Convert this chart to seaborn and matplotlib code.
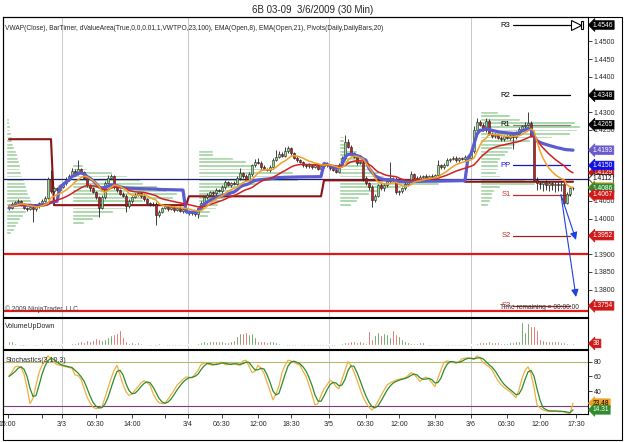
import numpy as np
import pandas as pd
import seaborn as sns
import matplotlib.pyplot as plt
from matplotlib.patches import Rectangle
from matplotlib.ticker import FormatStrFormatter

sns.set_theme(style="white")
plt.rcParams['font.family'] = ['Liberation Sans', 'DejaVu Sans']

# 6B 03-09, 30 min bars, 3/2 15:00 .. 3/6 17:30
first_open = 1.4036
close = [
    1.4030, 1.4042, 1.4048, 1.4050, 1.4040, 1.4030, 1.4028, 1.4032, 1.4026, 1.4035,
    1.4045, 1.4050, 1.4058, 1.4112, 1.4078, 1.4085, 1.4082, 1.4090, 1.4100, 1.4110,
    1.4120, 1.4135, 1.4128, 1.4140, 1.4132, 1.4115, 1.4095, 1.4085, 1.4075, 1.4060,
    1.4030, 1.4060, 1.4100, 1.4115, 1.4120, 1.4090, 1.4080, 1.4070, 1.4065, 1.4035,
    1.4050, 1.4060, 1.4068, 1.4072, 1.4065, 1.4055, 1.4045, 1.4040, 1.4042, 1.4010,
    1.4020, 1.4030, 1.4035, 1.4028, 1.4032, 1.4025, 1.4030, 1.4022, 1.4028, 1.4020,
    1.4015, 1.4020, 1.4012, 1.4030, 1.4045, 1.4060, 1.4068, 1.4075, 1.4072, 1.4080,
    1.4078, 1.4090, 1.4102, 1.4095, 1.4100, 1.4098, 1.4115, 1.4128, 1.4120, 1.4110,
    1.4125, 1.4150, 1.4160, 1.4158, 1.4145, 1.4140, 1.4138, 1.4145, 1.4165, 1.4175,
    1.4182, 1.4178, 1.4190, 1.4198, 1.4185, 1.4172, 1.4165, 1.4160, 1.4150, 1.4148,
    1.4152, 1.4145, 1.4150, 1.4140, 1.4148, 1.4155, 1.4150, 1.4142, 1.4138, 1.4132,
    1.4150, 1.4170, 1.4215, 1.4203, 1.4185, 1.4175, 1.4158, 1.4160, 1.4115, 1.4100,
    1.4090, 1.4052, 1.4065, 1.4095, 1.4085, 1.4095, 1.4105, 1.4110, 1.4108, 1.4075,
    1.4078, 1.4085, 1.4098, 1.4108, 1.4125, 1.4115, 1.4112, 1.4118, 1.4120, 1.4115,
    1.4120, 1.4118, 1.4122, 1.4150, 1.4145, 1.4152, 1.4165, 1.4168, 1.4172, 1.4165,
    1.4170, 1.4168, 1.4175, 1.4172, 1.4190, 1.4250, 1.4272, 1.4265, 1.4250, 1.4275,
    1.4240, 1.4232, 1.4235, 1.4228, 1.4225, 1.4232, 1.4228, 1.4235, 1.4230, 1.4240,
    1.4252, 1.4260, 1.4265, 1.4270, 1.4232, 1.4110, 1.4100, 1.4098, 1.4102, 1.4096,
    1.4100, 1.4095, 1.4098, 1.4094, 1.4098, 1.4044, 1.4070, 1.4085, 1.4086,
]
# wick lengths in pips above / below the body
wick_up = [
    4, 5, 3, 4, 3, 5, 4, 3, 5, 4,   3, 4, 5, 6, 25, 4, 3, 5, 4, 6,
    5, 8, 6, 25, 4, 3, 5, 4, 3, 4,  5, 6, 5, 7, 6, 4, 5, 3, 4, 5,
    4, 3, 5, 4, 3, 5, 4, 3, 4, 5,   3, 4, 5, 3, 4, 3, 4, 5, 3, 4,
    3, 4, 5, 3, 6, 4, 5, 4, 3, 6,   4, 5, 6, 4, 3, 5, 6, 15, 4, 5,
    6, 5, 8, 12, 4, 5, 4, 6, 5, 18, 8, 6, 12, 8, 5, 4, 5, 4, 3, 5,
    4, 3, 5, 4, 3, 5, 4, 3, 4, 5,   6, 8, 21, 10, 5, 4, 6, 3, 4, 5,
    4, 6, 5, 4, 5, 6, 10, 50, 6, 8, 4, 5, 6, 5, 8, 4, 5, 6, 4, 5,
    4, 6, 5, 15, 5, 4, 6, 4, 5, 4, 3, 4, 5, 4, 8, 10, 12, 6, 5, 10,
    5, 4, 6, 5, 4, 5, 6, 5, 4, 8,   6, 5, 8, 30, 4, 5, 6, 5, 4, 6,
    5, 4, 5, 6, 4, 5, 6, 4, 3,
]
wick_dn = [
    5, 4, 6, 3, 5, 4, 6, 4, 36, 5,  4, 5, 3, 4, 5, 6, 4, 5, 3, 4,
    5, 4, 6, 5, 4, 3, 5, 6, 4, 5,   25, 4, 5, 3, 4, 6, 5, 4, 5, 15,
    4, 5, 3, 4, 6, 5, 4, 5, 3, 28,  5, 4, 3, 6, 4, 5, 4, 3, 6, 4,
    5, 6, 4, 10, 5, 4, 6, 3, 5, 4,  4, 5, 6, 4, 5, 3, 4, 5, 6, 4,
    5, 4, 3, 5, 6, 4, 5, 6, 4, 3,   5, 4, 3, 4, 6, 5, 4, 3, 5, 6,
    4, 5, 3, 4, 6, 5, 4, 6, 5, 4,   3, 4, 5, 4, 3, 5, 6, 4, 8, 6,
    10, 19, 6, 5, 4, 6, 5, 4, 5, 6, 8, 5, 4, 5, 3, 4, 6, 5, 4, 5,
    4, 3, 5, 4, 5, 6, 4, 5, 3, 4,   5, 4, 6, 4, 5, 4, 6, 5, 4, 5,
    4, 6, 5, 4, 5, 6, 4, 5, 35, 6,  5, 4, 6, 4, 3, 5, 18, 15, 20, 16,
    18, 15, 20, 17, 15, 6, 4, 5, 4,
]
volume = [
    100, 100, 50, 15, 10, 10, 25, 15, 25, 10,   15, 50, 15, 20, 50, 25, 15, 10, 15, 25,
    25, 50, 50, 75, 100, 75, 125, 100, 125, 175, 150, 125, 150, 200, 250, 275, 300, 375, 200, 100,
    50, 75, 50, 75, 50, 25, 15, 10, 15, 10,     50, 25, 15, 10, 15, 10, 25, 10, 15, 10,
    15, 25, 25, 50, 75, 100, 75, 100, 100, 100, 100, 100, 75, 75, 100, 125, 225, 300, 300, 325,
    275, 300, 200, 100, 100, 100, 75, 100, 100, 75, 50, 25, 15, 10, 15, 10, 25, 15, 10, 25,
    10, 15, 10, 15, 10, 15, 10, 15, 10, 25,     25, 50, 75, 75, 100, 100, 75, 100, 75, 50,
    350, 150, 250, 325, 250, 300, 275, 200, 375, 275, 225, 150, 100, 75, 50, 50, 50, 75, 75, 15,
    10, 15, 10, 25, 25, 15, 10, 15, 10, 15,     10, 15, 10, 15, 20, 25, 50, 75, 75, 75,
    100, 75, 75, 75, 50, 50, 50, 75, 75, 100,   100, 575, 325, 550, 475, 475, 375, 150, 125, 100,
    100, 100, 100, 100, 75, 75, 50, 20, 38,
]
# Stochastics(3,10,3) %K line; %D is its 3-bar average
stoch_k = [
    60, 66, 73, 74, 72, 63, 45, 23, 30, 48,   65, 75, 82, 88, 83, 79, 76, 75, 74, 73,
    72, 71, 62, 61, 56, 44, 32, 24, 18, 16,   17, 19, 31, 44, 57, 68, 75, 62, 49, 39,
    34, 36, 41, 46, 51, 54, 52, 48, 37, 29,   24, 23, 23, 29, 35, 41, 48, 52, 56, 59,
    59, 58, 63, 68, 76, 78, 78, 76, 75, 77,   79, 79, 76, 76, 77, 78, 76, 75, 81, 82,
    74, 65, 67, 75, 71, 64, 52, 40, 28, 36,   47, 65, 75, 82, 81, 79, 77, 75, 67, 60,
    48, 35, 21, 23, 34, 43, 48, 55, 52, 46,   43, 56, 68, 80, 75, 66, 55, 43, 32, 24,
    18, 14, 19, 26, 34, 41, 48, 51, 53, 55,   56, 57, 58, 61, 65, 63, 58, 53, 57, 59,
    56, 51, 46, 58, 69, 79, 81, 80, 79, 78,   80, 84, 85, 85, 84, 83, 88, 85, 79, 76,
    73, 69, 61, 54, 49, 45, 42, 39, 35, 31,   42, 57, 68, 73, 63, 45, 21, 17, 14, 13,
    12, 13, 13, 12, 12, 12, 10, 9.45, 23.48,
]

vwap_sessions = [0, 17, 59, 105, 153]
level_sessions = [0, 15, 60, 105, 152]
level_values = [1.4224, 1.4038, 1.4063, 1.4108, 1.4104]
navy_level = 1.4112
red_levels = [1.3900, 1.3739]

pivot_names = ['R3', 'R2', 'R1', 'PP', 'S1', 'S2', 'S3']
pivot_values = [1.4546, 1.4348, 1.4265, 1.4150, 1.4067, 1.3952, 1.3754]
arrow_targets = [1.3940, 1.3779]

# value-area profiles: session start bar, top row price, row widths (bars), rows every 10 pips
profile_sessions = [-5, 17, 59, 106, 153]
profile_tops = [1.4280, 1.4150, 1.4190, 1.4230, 1.4300]
prof_a = [1, 1, 1.3, 1.3, 1.7, 2, 2, 2.3, 2.7, 3.3, 3.7, 4, 4.3, 4.7, 4.7, 5, 5.3,
          6, 6.3, 6.7, 7, 7.3, 8, 8.3, 8, 7.3, 6.7, 5.7, 4.7, 4, 3.3, 2.7, 1.7]
prof_b = [3.7, 5, 13.3, 18.3, 22.7, 23.7, 28.3, 31.7, 35, 33.7, 23.7, 20.3, 18.3,
          13.7, 9.3, 7, 4]
prof_c = [5, 5, 11.7, 16, 18.3, 23.3, 31.7, 36.7, 33.3, 20, 13.3, 11.7, 10.7, 9.3,
          7.3, 6.7, 6, 4, 3.3]
prof_d = [1.7, 1.7, 2, 2.7, 6, 6, 7.3, 7.7, 10, 11.3, 13.3, 15, 28.3, 33.3, 20.7,
          13.3, 10, 6.7, 6, 4]
prof_e = [6, 10, 13.3, 31.7, 33.3, 32.3, 30, 24, 16.7, 11.7, 10.7, 9.3, 8.3, 6.7,
          6, 6, 6, 5.3, 6.7, 15, 18.3, 6.7, 4.7, 4, 4, 3.3, 2.7]

tick_pos = [-0.5, 11, 17.5, 29, 41, 52, 59.5, 71, 83, 94, 106.5, 119, 130, 142,
            154, 166, 177, 189]
tick_labels = ['15:00', '', '3/3', '06:30', '14:00', '', '3/4', '06:30', '12:00',
               '18:30', '3/5', '06:30', '12:00', '18:30', '3/6', '06:30', '12:00', '17:30']

# ---- derived series ----
n = len(close)
df = pd.DataFrame({'bar': np.arange(n), 'open': [first_open] + close[:-1],
                   'close': close, 'volume': volume, 'k': stoch_k})
df['high'] = df[['open', 'close']].max(axis=1) + np.array(wick_up) * 1e-4
df['low'] = df[['open', 'close']].min(axis=1) - np.array(wick_dn) * 1e-4
df['up'] = df['close'] >= df['open']
df['ema8'] = df['open'].ewm(span=8, adjust=False).mean()
df['ema21'] = df['open'].ewm(span=21, adjust=False).mean()
df['d'] = df['k'].rolling(3, min_periods=1).mean()

sess = np.searchsorted(vwap_sessions, df['bar'], side='right') - 1
df['vwap'] = (df['close'] * df['volume']).groupby(sess).cumsum() / df['volume'].groupby(sess).cumsum()
lvl = np.searchsorted(level_sessions, df['bar'], side='right') - 1
df['level'] = np.array(level_values)[lvl]

# ---- figure ----
W, H = 625, 442
fig = plt.figure(figsize=(W / 100, H / 100), dpi=100)


def box(x0, y0, x1, y1):
    return [x0 / W, 1 - y1 / H, (x1 - x0) / W, (y1 - y0) / H]


ax = fig.add_axes(box(3, 17, 588, 317))
axv = fig.add_axes(box(3, 318, 588, 349))
axs = fig.add_axes(box(3, 350, 588, 414))

day_lines = [p for p, t in zip(tick_pos, tick_labels) if '/' in t]
for a in (ax, axv, axs):
    for p in day_lines:
        a.axvline(p, color='#c8c8c8', lw=0.7, zorder=0)

# profiles
for s, top, w in zip(profile_sessions, profile_tops, [prof_a, prof_b, prof_c, prof_d, prof_e]):
    rows = top - 0.001 * np.arange(len(w))
    ax.barh(rows, w, left=s + 4, height=0.0008, color='#9ccf9c', zorder=1)

ax.axhline(navy_level, color='#1c1c6e', lw=0.9, zorder=2)
for v in red_levels:
    ax.axhline(v, color='#e01818', lw=1.6, zorder=2)
sns.lineplot(data=df, x='bar', y='level', ax=ax, color='#8b1414', lw=1.5, zorder=3)

# candles
ax.vlines(df['bar'], df['low'], df['high'], color='#202020', lw=0.6, zorder=4)
body = (df['close'] - df['open']).abs().clip(lower=0.00008)
ax.bar(df['bar'], body, bottom=df[['open', 'close']].min(axis=1), width=0.72,
       color=np.where(df['up'], '#92dc92', '#c41e1e'), edgecolor='#202020',
       linewidth=0.4, zorder=5)

sns.lineplot(data=df, x='bar', y='vwap', ax=ax, color='#5c5cd0', lw=2.3, zorder=6)
sns.lineplot(data=df, x='bar', y='ema21', ax=ax, color='#d42020', lw=1.1, zorder=7)
sns.lineplot(data=df, x='bar', y='ema8', ax=ax, color='#f2a024', lw=1.1, zorder=7)

# pivots for the last session
p0, p1 = n - 21, n - 2
line_cols = ['black', 'black', '#808080', '#1414c8', '#b03030', '#a02020', '#a02020']
text_cols = ['black', 'black', 'black', '#1414c8', '#c83030', '#c83030', '#c83030']
for name, v, lc, tc in zip(pivot_names, pivot_values, line_cols, text_cols):
    ax.plot([p0, p1], [v, v], color=lc, lw=0.9, zorder=3)
    ax.text(p0 - 0.8, v, name, ha='right', va='center', fontsize=5.5, color=tc, zorder=8)

# arrows from S1 toward S2 / S3
for t in arrow_targets:
    ax.annotate('', xy=(n, t), xytext=(n - 5, pivot_values[4]),
                arrowprops=dict(arrowstyle='-|>', color='#1f3fe0', lw=0.8,
                                mutation_scale=11, shrinkA=0, shrinkB=0), zorder=9)

# bar timer marker
ax.plot([n], [pivot_values[0]], marker='>', ms=7, mfc='white', mec='black', mew=0.8,
        zorder=9, clip_on=False)
ax.add_patch(Rectangle((n + 1.6, pivot_values[0] - 0.0012), 0.8, 0.0024,
                       fc='white', ec='black', lw=0.8, zorder=9))

ax.text(0.004, 0.975, 'VWAP(Close), BarTimer, dValueArea(True,0,0,0.01,1,VWTPO,23,100), '
        'EMA(Open,8), EMA(Open,21), Pivots(Daily,DailyBars,20)',
        transform=ax.transAxes, fontsize=4.8, va='top', ha='left')
ax.text(0.004, 0.012, '\u00a9 2009 NinjaTrader, LLC', transform=ax.transAxes,
        fontsize=4.8, va='bottom', ha='left', color='#404040')
ax.text(0.985, 0.02, 'Time remaining = 00:00:00', transform=ax.transAxes,
        fontsize=4.8, va='bottom', ha='right', color='#303030', zorder=10)

# volume
axv.bar(df['bar'], df['volume'], width=0.8,
        color=np.where(df['up'], '#1c7a1c', '#d42a2a'), zorder=3)
axv.plot([0, n - 1], [0, 0], color='#a0a0a0', lw=0.6, zorder=2)
axv.text(0.004, 0.72, 'VolumeUpDown', transform=axv.transAxes, fontsize=5, va='center')

# stochastics
axs.axhline(80, color='#b6b96a', lw=0.8, zorder=1)
axs.axhline(20, color='#7d3a7d', lw=0.8, zorder=1)
sns.lineplot(data=df, x='bar', y='k', ax=axs, color='#f0b040', lw=0.9, zorder=3)
sns.lineplot(data=df, x='bar', y='d', ax=axs, color='#2e8b2e', lw=0.9, zorder=4)
axs.text(0.004, 0.84, 'Stochastics(3,10,3)', transform=axs.transAxes, fontsize=5, va='center')

# axes cosmetics
for a in (ax, axv, axs):
    a.set_xlim(-2, 193)
    a.set_xlabel('')
    a.set_ylabel('')
    a.yaxis.tick_right()
    a.tick_params(axis='x', bottom=False, labelbottom=False)
    a.tick_params(axis='y', right=True, length=3, width=0.6, labelsize=5, pad=1,
                  direction='out')
    for sp in a.spines.values():
        sp.set_color('black')
        sp.set_linewidth(0.8)

last = df.iloc[-1]
main_tags = [
    (pivot_values[0], 'black', 'white', None),
    (pivot_values[1], 'black', 'white', None),
    (pivot_values[2], 'black', 'white', None),
    (last['vwap'], '#6a5acd', 'white', None),
    (last['ema21'], '#d01818', 'white', None),
    (pivot_values[3], '#1010e0', 'white', None),
    (navy_level, 'white', 'black', 'black'),
    (last['ema8'], '#f0a020', 'black', None),
    (last['close'], '#2e8b2e', 'white', None),
    (pivot_values[4], '#d01818', 'white', None),
    (pivot_values[5], '#d01818', 'white', None),
    (pivot_values[6], '#d01818', 'white', None),
]

ax.set_ylim(1.37226, 1.45686)
yt = [t for t in np.arange(1.375, 1.4551, 0.005)
      if min(abs(t - v[0]) for v in main_tags) > 0.0013]
ax.set_yticks(yt)
ax.yaxis.set_major_formatter(FormatStrFormatter('%.4f'))
axv.set_ylim(-100, 675)
axv.set_yticks([])
axs.set_ylim(8.7, 95.9)
axs.set_yticks([40, 60, 80])
axs.set_xticks(tick_pos)
axs.set_xticklabels(tick_labels)
axs.tick_params(axis='x', bottom=True, labelbottom=True, length=3, width=0.6,
                labelsize=5, pad=2)


def tag(a, y, text, fc, tc='white', ec=None):
    a.annotate(text, xy=(1, y), xycoords=('axes fraction', 'data'), xytext=(3.5, 0),
               textcoords='offset points', ha='left', va='center', fontsize=4.8,
               color=tc, annotation_clip=False, zorder=20,
               bbox=dict(boxstyle='larrow,pad=0.12', fc=fc, ec=ec or fc, lw=0.5))


for v, fc, tc, ec in main_tags:
    tag(ax, v, f'{v:.4f}', fc, tc, ec)
tag(axv, last['volume'], f"{int(last['volume'])}", '#d01818')
tag(axs, last['k'], f"{last['k']:.2f}", '#f0a020', 'black')
tag(axs, last['d'], f"{last['d']:.2f}", '#2e8b2e')

fig.text(0.5, 1 - 10 / H, '6B 03-09  3/6/2009 (30 Min)', ha='center', va='center', fontsize=7)
fig.add_artist(Rectangle((3 / W, 1 - 440 / H), 619 / W, 423 / H, transform=fig.transFigure,
                         fill=False, ec='black', lw=0.8))

fig.savefig('out.png', dpi=100)
